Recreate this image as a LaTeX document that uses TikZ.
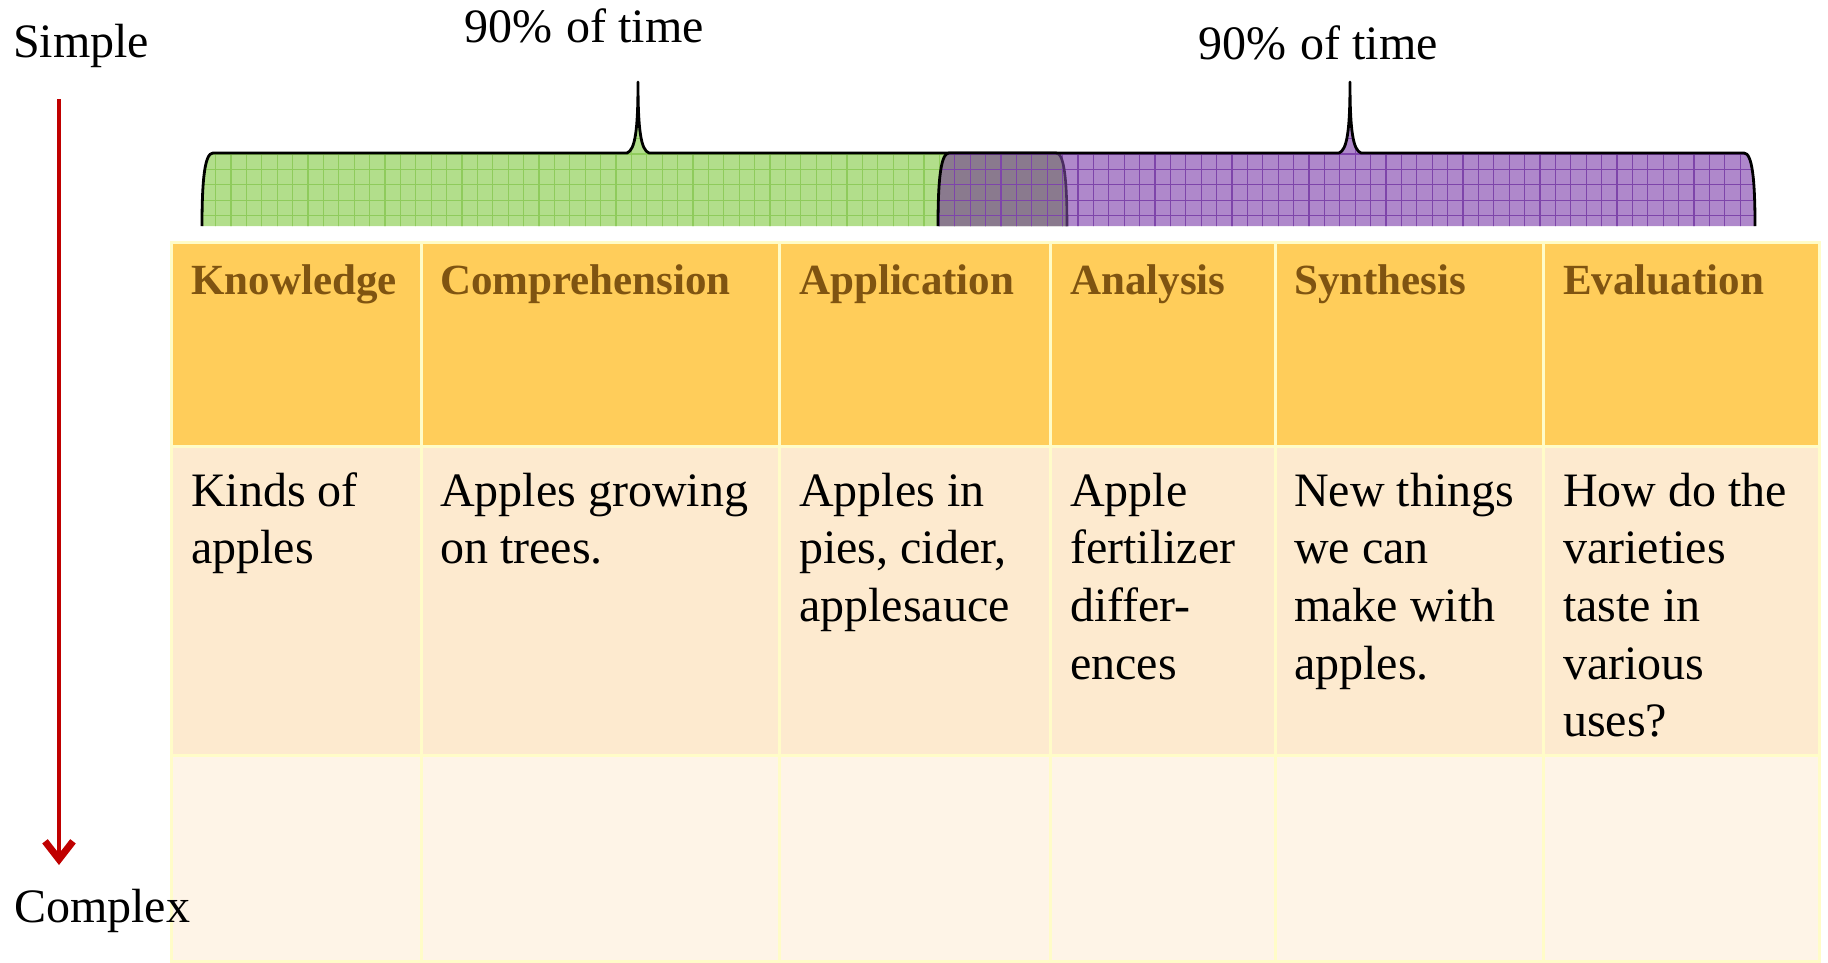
\documentclass[tikz,border=0pt]{standalone}
\usepackage{fontspec}
\setmainfont{Liberation Serif}
\usetikzlibrary{arrows.meta}
\definecolor{hdrfill}{HTML}{FFCD5A}
\definecolor{rowtwo}{HTML}{FDEACF}
\definecolor{rowthree}{HTML}{FEF4E7}
\definecolor{cellline}{HTML}{FFFCC8}
\definecolor{hdrtxt}{HTML}{7F5411}
\definecolor{greenfill}{HTML}{B2DE8B}
\definecolor{greengrid}{HTML}{8FCB5C}
\definecolor{purplefill}{HTML}{AF88CB}
\definecolor{purplegrid}{HTML}{7E45AA}
\definecolor{overlapfill}{HTML}{8A7A8E}
\definecolor{darkpurple}{HTML}{4B2D62}
\definecolor{arrowred}{HTML}{C00000}
\newcommand\tcell[6]{\node[#6, minimum width={(#4-#2)*1pt}, minimum height={(#5-#3)*1pt}] (#1) at (#2,#3) {};}
\begin{document}
\begin{tikzpicture}[x=1pt,y=-1pt,
  cellbase/.style={draw=cellline, line width=3pt, inner sep=0pt, outer sep=0pt, anchor=north west},
  hdrcell/.style={cellbase, fill=hdrfill},
  midcell/.style={cellbase, fill=rowtwo},
  lowcell/.style={cellbase, fill=rowthree},
  hdrtext/.style={font=\fontsize{43}{52}\selectfont\bfseries, text=hdrtxt, anchor=base west, inner sep=0pt},
  bodytext/.style={font=\fontsize{48}{57.7}\selectfont, anchor=base west, inner sep=0pt},
  sidelabel/.style={font=\fontsize{48}{57.7}\selectfont, anchor=base west, inner sep=0pt},
  bracepath/.style n args={6}{insert path={
    (#1,#5) .. controls (#1,{#4+25}) and ({#1+3},#4) .. ({#1+11},#4)
    -- ({#3-11},#4) .. controls ({#3-3},{#4-3}) and (#3,{#4-22}) .. (#3,#6)
    .. controls (#3,{#4-22}) and ({#3+3},{#4-3}) .. ({#3+11},#4)
    -- ({#2-11},#4) .. controls ({#2-3},#4) and (#2,{#4+25}) .. (#2,#5)}},
  braceline/.style={draw=black, line width=2.8pt, line join=round},
  redarrow/.style={draw=arrowred, line width=4pt, -{Straight Barb[length=18pt,width=28pt,line width=7pt 0]}}
]
\useasboundingbox (0,0) rectangle (1828,962);

% ---------- braces ----------
\begin{scope}
  \clip[bracepath={202}{1067}{638}{153}{226}{82}] -- cycle;
  \fill[greenfill] (190,60) rectangle (1080,230);
  \draw[greengrid, line width=1.1pt, step=15.4pt] (190,60) grid (1080,230);
\end{scope}
\draw[braceline, bracepath={202}{1067}{638}{153}{226}{82}];
\begin{scope}
  \clip[bracepath={938}{1755}{1350}{153}{226}{82}] -- cycle;
  \fill[purplefill] (930,60) rectangle (1770,230);
  \begin{scope}
    \clip[bracepath={202}{1067}{638}{153}{226}{82}] -- cycle;
    \fill[overlapfill] (930,60) rectangle (1080,230);
  \end{scope}
  \draw[purplegrid, line width=1.1pt, step=15.4pt] (930,60) grid (1770,230);
  \draw[darkpurple, line width=2.6pt] (1056,153) .. controls (1064,153) and (1067,178) .. (1067,226);
\end{scope}
\draw[braceline, bracepath={938}{1755}{1350}{153}{226}{82}];

% ---------- labels ----------
\node[sidelabel] (lblA) at (464,42) {90\%\hspace{0.3em}of time};
\node[sidelabel] (lblB) at (1198,59) {90\%\hspace{0.3em}of time};
\node[sidelabel] (simple) at (13,57) {Simple};

% ---------- table ----------
\tcell{c11}{171}{242}{421}{446}{hdrcell}
\tcell{c12}{421}{242}{779}{446}{hdrcell}
\tcell{c13}{779}{242}{1050}{446}{hdrcell}
\tcell{c14}{1050}{242}{1275}{446}{hdrcell}
\tcell{c15}{1275}{242}{1543}{446}{hdrcell}
\tcell{c16}{1543}{242}{1819}{446}{hdrcell}
\tcell{c21}{171}{446}{421}{755}{midcell}
\tcell{c22}{421}{446}{779}{755}{midcell}
\tcell{c23}{779}{446}{1050}{755}{midcell}
\tcell{c24}{1050}{446}{1275}{755}{midcell}
\tcell{c25}{1275}{446}{1543}{755}{midcell}
\tcell{c26}{1543}{446}{1819}{755}{midcell}
\tcell{c31}{171}{755}{421}{961}{lowcell}
\tcell{c32}{421}{755}{779}{961}{lowcell}
\tcell{c33}{779}{755}{1050}{961}{lowcell}
\tcell{c34}{1050}{755}{1275}{961}{lowcell}
\tcell{c35}{1275}{755}{1543}{961}{lowcell}
\tcell{c36}{1543}{755}{1819}{961}{lowcell}

\node[hdrtext] (t1) at (191,294) {Knowledge};
\node[hdrtext] (t2) at (440,294) {Comprehension};
\node[hdrtext] (t3) at (799,294) {Application};
\node[hdrtext] (t4) at (1070,294) {Analysis};
\node[hdrtext] (t5) at (1294,294) {Synthesis};
\node[hdrtext] (t6) at (1563,294) {Evaluation};

\node[bodytext] (u1) at (191,506) {\vtop{\hbox{Kinds of}\hbox{apples}}};
\node[bodytext] (u2) at (440,506) {\vtop{\hbox{Apples growing}\hbox{on trees.}}};
\node[bodytext] (u3) at (799,506) {\vtop{\hbox{Apples in}\hbox{pies, cider,}\hbox{applesauce}}};
\node[bodytext] (u4) at (1070,506) {\vtop{\hbox{Apple}\hbox{fertilizer}\hbox{differ-}\hbox{ences}}};
\node[bodytext] (u5) at (1294,506) {\vtop{\hbox{New things}\hbox{we can}\hbox{make with}\hbox{apples.}}};
\node[bodytext] (u6) at (1563,506) {\vtop{\hbox{How do the}\hbox{varieties}\hbox{taste in}\hbox{various}\hbox{uses?}}};

% ---------- arrow ----------
\coordinate (arrtop) at (59,99);
\coordinate (arrbot) at (59,865);
\draw[redarrow] (arrtop) -- (arrbot);
\node[sidelabel] (complex) at (14,922) {Complex};
\end{tikzpicture}
\end{document}
